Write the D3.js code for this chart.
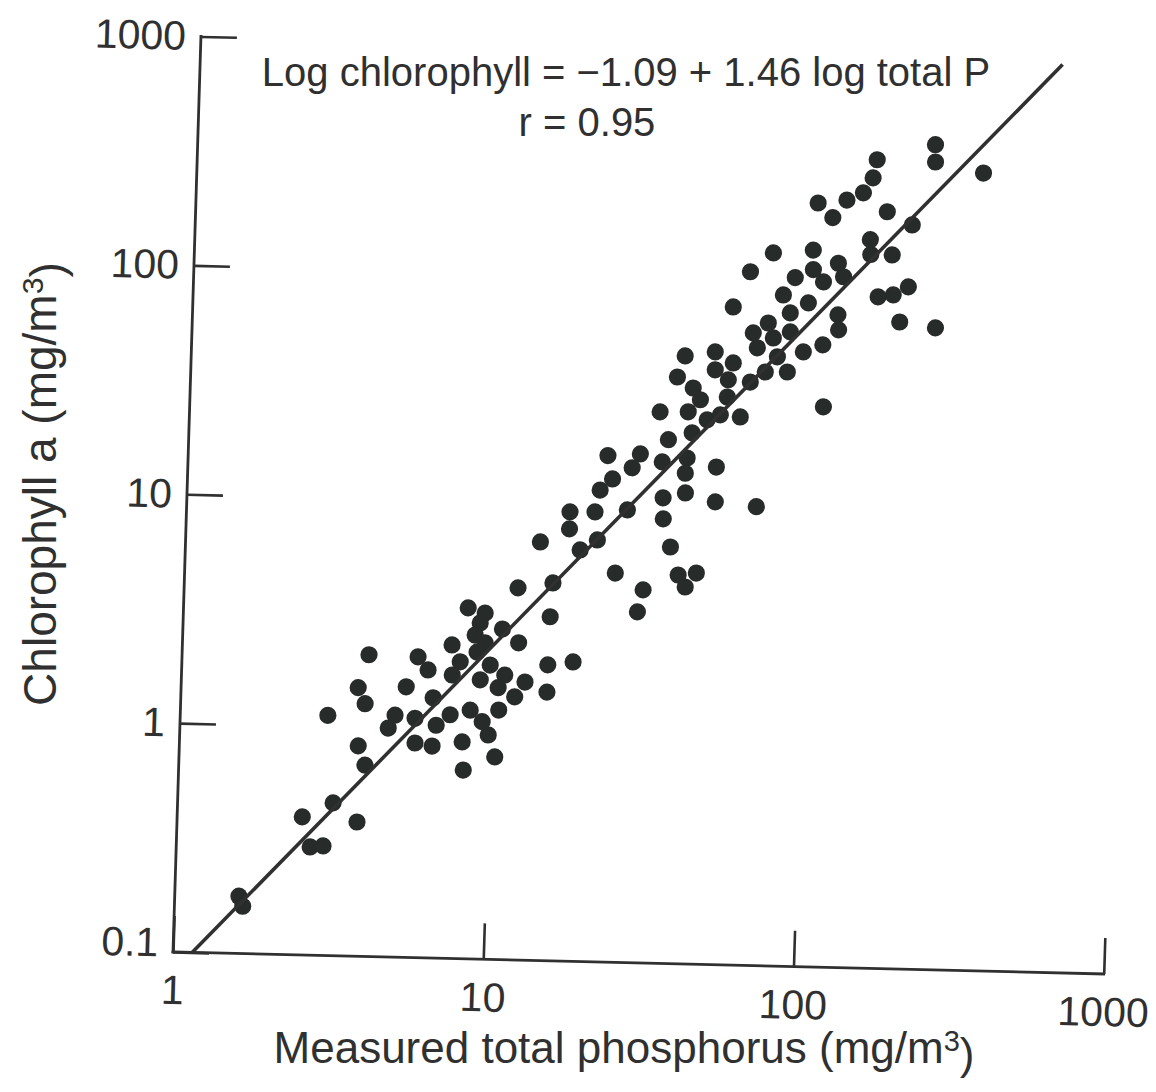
<!DOCTYPE html>
<html>
<head>
<meta charset="utf-8">
<script src="https://cdn.jsdelivr.net/npm/d3@7"></script>
<style>
  html, body { margin: 0; padding: 0; background: #ffffff; }
  svg { display: block; }
</style>
</head>
<body>
<svg id="chart" width="1156" height="1092"></svg>
<script>
// Tick values for the two logarithmic axes
const xTicks = [1, 10, 100, 1000];
const yTicks = [0.1, 1, 10, 100, 1000];

// Measured total phosphorus (mg/m3) for each lake
const phosphorus = [
  1.61, 1.66, 2.53, 3.17, 3.80, 2.70, 2.97, 2.99, 3.77, 3.98,
  3.72, 3.93, 4.00, 5.31, 5.76, 6.22, 4.92, 4.69, 5.71, 5.74,
  6.52, 6.50, 6.69, 7.40, 7.39, 7.88, 7.45, 8.14, 8.26, 8.58,
  9.40, 9.86, 10.4, 10.6, 9.18, 9.85, 11.0, 10.5, 11.9, 12.8,
  12.1, 10.7, 8.26, 9.38, 9.06, 8.75, 9.44, 8.91, 15.2, 15.1,
  18.2, 15.1,
  11.9, 15.4, 13.9, 17.2, 17.2, 18.7, 20.7, 21.2, 21.4, 23.4,
  22.5, 26.3, 27.0, 28.6, 24.4, 30.1, 29.0, 34.2, 34.4, 36.5,
  33.7, 35.1, 32.8, 38.9, 44.5, 41.1, 40.5, 40.1, 40.3, 41.8,
  40.4, 41.7, 44.1, 37.0, 39.0, 48.7, 48.9, 50.4, 50.4, 68.4,
  46.6, 51.3, 54.0, 53.8, 59.5, 55.8, 63.6, 66.5, 70.9, 74.7,
  83.5, 93.6, 77.3, 64.3, 84.6,
  55.1, 62.1, 73.3, 71.7, 79.7, 84.2, 86.7, 96.1, 98.5, 99.0,
  107, 108, 110, 119, 124, 120, 121, 101, 113, 125,
  141, 151, 155, 150, 151, 169, 177, 161, 180, 201,
  190, 204, 238, 239, 342, 248
];

// Chlorophyll a (mg/m3), same order as phosphorus
const chlorophyll = [
  0.178, 0.161, 0.401, 0.465, 0.386, 0.297, 0.301, 1.12, 0.83, 0.685,
  1.49, 1.27, 2.08, 1.52, 2.06, 1.81, 1.14, 1.00, 1.11, 0.866,
  0.843, 1.37, 1.04, 1.16, 2.34, 1.98, 1.73, 0.885, 0.667, 1.22,
  1.09, 0.955, 0.767, 1.23, 1.66, 1.93, 1.75, 1.54, 1.41, 1.64,
  2.43, 2.78, 3.41, 3.25, 2.94, 2.60, 2.41, 2.19, 3.18, 1.96,
  2.03, 1.49,
  4.22, 4.47, 6.73, 9.17, 7.73, 6.27, 9.22, 6.96, 11.5, 12.9,
  16.3, 9.48, 14.5, 16.7, 5.01, 4.26, 3.41, 10.8, 8.74, 6.60,
  15.5, 19.4, 25.6, 4.99, 5.11, 4.43, 16.2, 13.9, 11.4, 20.9,
  25.8, 32.8, 29.2, 36.5, 45.2, 47.4, 39.6, 14.9, 10.5, 10.1,
  23.9, 25.2, 35.9, 30.2, 24.8, 42.6, 35.3, 49.9, 39.2, 55.3,
  39.4, 48.4, 45.8, 57.9, 59.0,
  74.8, 107, 130, 64.2, 85.4, 71.4, 102, 79.3, 135, 111,
  98.3, 52.2, 28.0, 119, 104, 70.8, 60.9, 217, 188, 225,
  243, 283, 340, 152, 131, 202, 131, 85.7, 87.7, 95.4,
  66.9, 178, 401, 337, 305, 63.6
];

// Fitted regression: log chl = intercept + slope * log P
const intercept = -1.09;
const slope = 1.46;
const rValue = 0.95;
const fitMaxP = 600;

const ink = "#303030";
const dotInk = "#272b29";
const font = "'Liberation Sans', Arial, Helvetica, sans-serif";

const svg = d3.select("#chart");

const plotW = 931, plotH = 916;
const x = d3.scaleLog().domain([1, 1000]).range([0, plotW]);
const y = d3.scaleLog().domain([0.1, 1000]).range([0, -plotH]);

// Plot frame, anchored at the origin with a slight tilt of the axes
const frame = svg.append("g")
  .attr("transform", "matrix(0.9997,0.0236,-0.0305,0.9995,173,952)");

const fmt = d3.format("~g");

const xAxis = d3.axisBottom(x).tickValues(xTicks).tickFormat(fmt)
  .tickSize(-36).tickPadding(23);
const yAxis = d3.axisLeft(y).tickValues(yTicks).tickFormat(fmt)
  .tickSize(-36).tickPadding(15);

function styleAxis(g) {
  g.select(".domain").remove();
  g.attr("font-family", null).attr("font-size", null);
  g.selectAll(".tick line").attr("stroke", ink).attr("stroke-width", 2.6);
  g.selectAll(".tick text")
    .attr("fill", ink)
    .style("font-family", font)
    .style("font-size", "41px");
}

frame.append("g").call(xAxis).call(styleAxis);
frame.append("g").call(yAxis).call(styleAxis)
  .selectAll(".tick text").filter(d => d === 0.1).attr("dy", "0.1em");

// Axis lines
frame.append("line")
  .attr("x1", x(1)).attr("x2", x(1000))
  .attr("y1", y(0.1)).attr("y2", y(0.1))
  .attr("stroke", ink).attr("stroke-width", 2.8).attr("stroke-linecap", "square");
frame.append("line")
  .attr("x1", x(1)).attr("x2", x(1))
  .attr("y1", y(0.1)).attr("y2", y(1000))
  .attr("stroke", ink).attr("stroke-width", 2.8).attr("stroke-linecap", "square");

// Observations
const points = phosphorus.map((p, i) => ({ p, c: chlorophyll[i] }));
frame.append("g")
  .selectAll("circle")
  .data(points)
  .join("circle")
  .attr("cx", d => x(d.p))
  .attr("cy", d => y(d.c))
  .attr("r", 8.6)
  .attr("fill", dotInk);

// Regression line, from where it enters the plotted range
const fit = p => Math.pow(10, intercept + slope * Math.log10(p));
const fitMinP = Math.pow(10, (Math.log10(0.1) - intercept) / slope);
const fitLine = d3.line().x(d => x(d)).y(d => y(fit(d)));
frame.append("path")
  .attr("d", fitLine([fitMinP, fitMaxP]))
  .attr("fill", "none")
  .attr("stroke", ink)
  .attr("stroke-width", 3.6);

// Equation and correlation
svg.append("text")
  .attr("x", 626).attr("y", 86)
  .attr("text-anchor", "middle")
  .attr("fill", ink)
  .style("font-family", font).style("font-size", "40px")
  .text(`Log chlorophyll = \u2212${Math.abs(intercept).toFixed(2)} + ${slope.toFixed(2)} log total P`);
svg.append("text")
  .attr("x", 587).attr("y", 136)
  .attr("text-anchor", "middle")
  .attr("fill", ink)
  .style("font-family", font).style("font-size", "40px")
  .text(`r = ${rValue.toFixed(2)}`);

// Axis titles
function unitTitle(sel, label) {
  sel.append("tspan").text(label + " (mg/m");
  sel.append("tspan").attr("dy", "-0.42em").style("font-size", "0.66em").text("3");
  sel.append("tspan").attr("dy", "0.42em").text(")");
}

svg.append("text")
  .attr("x", 624).attr("y", 1063)
  .attr("text-anchor", "middle")
  .attr("fill", ink)
  .style("font-family", font).style("font-size", "44px")
  .call(unitTitle, "Measured total phosphorus");

svg.append("text")
  .attr("transform", "translate(56,484) rotate(-90)")
  .attr("text-anchor", "middle")
  .attr("fill", ink)
  .style("font-family", font).style("font-size", "46px")
  .call(unitTitle, "Chlorophyll a");
</script>
</body>
</html>
